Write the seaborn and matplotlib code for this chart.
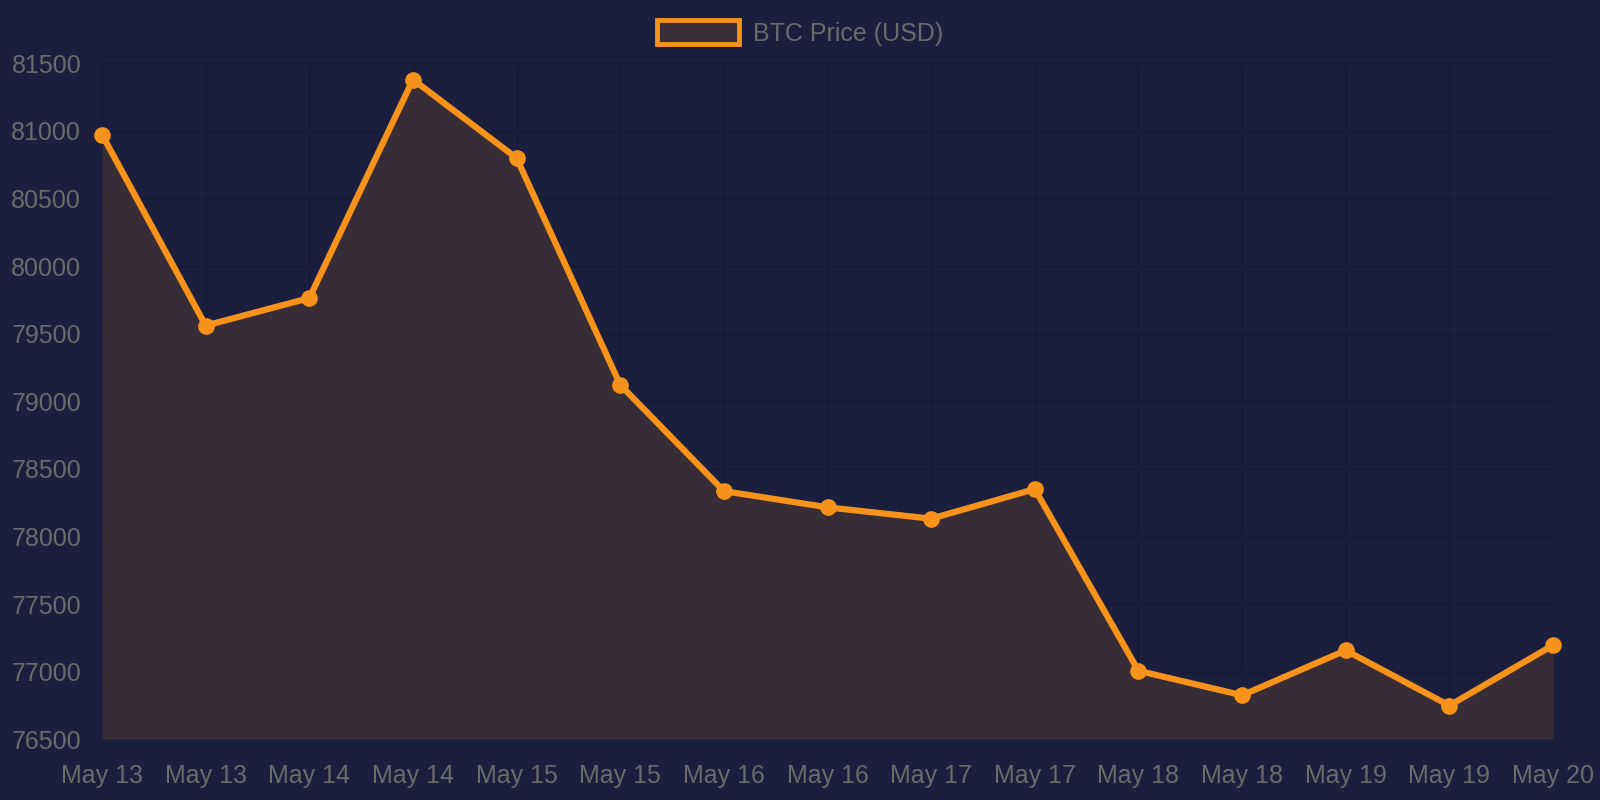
import matplotlib
matplotlib.use("Agg")
import matplotlib.pyplot as plt
import seaborn as sns
import pandas as pd
from matplotlib.patches import Patch

# Data
dates = ["May 13", "May 13", "May 14", "May 14", "May 15", "May 15", "May 16", "May 16",
         "May 17", "May 17", "May 18", "May 18", "May 19", "May 19", "May 20"]
prices = [80971, 79559, 79763, 81379, 80798, 79121, 78335, 78215,
          78131, 78350, 77006, 76825, 77157, 76749, 77195]
y_ticks = [76500, 77000, 77500, 78000, 78500, 79000, 79500, 80000, 80500, 81000, 81500]

# Colours
BG = "#1b1e3c"
FILL = "#3b2e36"
ORANGE = "#f7931a"
GRID = "#171a35"
TEXT = "#6b6b6b"

df = pd.DataFrame({"idx": range(len(prices)), "Price": prices})

sns.set_style("dark")
plt.rcParams["font.family"] = ["Liberation Sans", "DejaVu Sans"]

fig = plt.figure(figsize=(16, 8), dpi=100, facecolor=BG)
ax = fig.add_axes([0.0638, 0.076, 0.9068, 0.845])
ax.set_facecolor(BG)

# grid sits under the filled area
ax.grid(True, color=GRID, linewidth=1.0)
ax.set_axisbelow(True)

# Area under the line
ax.fill_between(df["idx"], df["Price"], y_ticks[0], color=FILL, alpha=0.93, zorder=1, linewidth=0)

sns.lineplot(data=df, x="idx", y="Price", ax=ax, color=ORANGE, linewidth=4.5,
             marker="o", markersize=12, markeredgewidth=0, zorder=3, legend=False,
             clip_on=False)

ax.set_xlim(0, len(prices) - 1)
ax.set_ylim(y_ticks[0], y_ticks[-1])
ax.set_xticks(range(len(dates)))
ax.set_xticklabels(dates)
ax.set_yticks(y_ticks)
ax.set_xlabel("")
ax.set_ylabel("")

for s in ax.spines.values():
    s.set_visible(False)
ax.tick_params(axis="both", colors=GRID, labelcolor=TEXT, labelsize=18, length=10, width=1.0)
ax.tick_params(axis="x", pad=7.5)
ax.tick_params(axis="y", pad=5)

handle = Patch(facecolor=FILL, edgecolor=ORANGE, linewidth=3.5)
fig.legend(handles=[handle], labels=["BTC Price (USD)"], loc="upper center",
           bbox_to_anchor=(0.5, 1.003), frameon=False, fontsize=18, labelcolor=TEXT,
           handlelength=3.3, handleheight=1.1, handletextpad=0.55)

fig.savefig("out.png", dpi=100, facecolor=BG)
